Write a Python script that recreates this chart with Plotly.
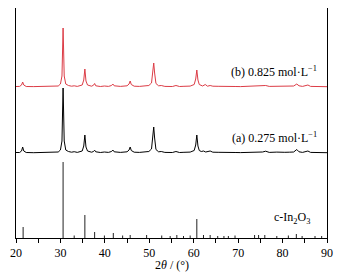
import plotly.graph_objects as go

# 2theta points (deg) and intensity above each pattern's own baseline (a.u.)
two_theta_a = [20.0, 20.8, 21.25, 21.5, 21.75, 22.3, 24.0, 26.0, 28.0, 29.5, 30.0, 30.35, 30.5, 30.6,
               30.72, 30.85, 31.2, 31.8, 32.5, 33.1, 33.8, 34.9, 35.25, 35.5, 35.75, 36.1, 37.0, 37.45,
               37.7, 37.95, 39.0, 39.9, 40.8, 41.5, 41.8, 42.1, 43.5, 44.0, 45.0, 45.45, 45.7, 45.95,
               46.6, 47.8, 48.7, 49.5, 49.9, 50.5, 50.85, 51.0, 51.2, 51.5, 52.1, 52.7, 53.5, 54.4,
               55.2, 56.0, 56.8, 57.8, 59.2, 60.1, 60.45, 60.7, 60.95, 61.25, 61.7, 62.2, 62.7, 63.7,
               64.3, 65.5, 66.5, 67.5, 68.5, 69.5, 70.5, 72.0, 73.5, 74.8, 75.5, 76.2, 77.0, 78.7,
               79.5, 80.5, 81.5, 82.5, 83.2, 83.7, 84.5, 85.7, 86.3, 87.5, 88.8, 90.0]
intensity_a = [0.5, 0.5, 2.0, 6.0, 2.0, 0.5, 0.3, 0.5, 0.5, 1.0, 3.0, 12.0, 45.0, 65.0,
               40.0, 12.0, 3.0, 1.5, 0.8, 1.3, 0.6, 2.0, 7.0, 18.0, 6.0, 2.0, 0.8, 1.5,
               2.8, 1.2, 0.5, 1.0, 0.6, 1.5, 3.0, 1.2, 0.6, 0.9, 1.2, 3.0, 6.0, 2.5,
               0.8, 0.6, 1.0, 2.0, 1.5, 4.0, 17.0, 26.0, 15.0, 3.5, 1.2, 1.5, 0.6, 0.8,
               0.5, 1.5, 0.5, 0.7, 0.9, 2.5, 8.0, 18.0, 7.0, 2.5, 1.5, 2.0, 1.0, 2.0,
               0.8, 0.7, 0.8, 0.4, 0.8, 0.5, 0.4, 0.5, 0.8, 1.2, 1.0, 1.8, 0.6, 0.9,
               0.5, 0.7, 0.8, 1.0, 3.5, 1.2, 0.6, 2.0, 0.6, 0.3, 0.6, 0.3]

two_theta_b = [20.0, 20.8, 21.25, 21.5, 21.75, 22.3, 24.0, 26.0, 28.0, 29.5, 30.0, 30.35, 30.5, 30.6,
               30.72, 30.85, 31.2, 31.8, 32.5, 33.1, 33.8, 34.9, 35.25, 35.5, 35.75, 36.1, 37.0, 37.45,
               37.7, 37.95, 39.0, 39.9, 40.8, 41.5, 41.8, 42.1, 43.5, 44.0, 45.0, 45.45, 45.7, 45.95,
               46.6, 47.8, 48.7, 49.5, 49.9, 50.5, 50.85, 51.0, 51.2, 51.5, 52.1, 52.7, 53.5, 54.4,
               55.2, 56.0, 56.8, 57.8, 59.2, 60.1, 60.45, 60.7, 60.95, 61.25, 61.6, 62.0, 62.6, 63.1,
               63.7, 64.3, 65.5, 66.5, 67.5, 68.5, 69.5, 70.5, 72.0, 73.5, 74.8, 75.5, 76.2, 77.0,
               78.7, 79.5, 80.5, 81.5, 82.5, 83.2, 83.7, 84.5, 85.7, 86.3, 87.5, 88.8, 90.0]
intensity_b = [0.5, 0.6, 2.0, 5.0, 2.0, 0.5, 0.4, 0.5, 0.6, 1.0, 3.0, 11.0, 40.0, 59.0,
               36.0, 11.0, 3.0, 1.5, 0.8, 1.2, 0.6, 2.0, 7.0, 18.0, 6.0, 2.0, 0.8, 1.8,
               3.5, 1.2, 0.5, 1.0, 0.6, 1.5, 3.0, 1.2, 0.6, 0.9, 1.2, 3.0, 6.0, 2.5,
               0.8, 0.6, 1.0, 2.0, 1.5, 4.0, 16.0, 24.0, 14.0, 3.5, 1.2, 1.5, 0.6, 0.8,
               0.5, 1.5, 0.5, 0.7, 0.9, 2.5, 8.0, 17.0, 7.0, 2.5, 2.0, 1.0, 2.5, 0.8,
               1.5, 0.8, 0.7, 0.8, 0.4, 0.8, 0.5, 0.4, 0.5, 0.8, 1.2, 1.0, 1.5, 0.6,
               0.9, 0.5, 0.7, 0.8, 1.0, 3.0, 1.2, 0.6, 2.0, 0.6, 0.3, 0.6, 0.3]

# c-In2O3 reference lines
ref_theta = [21.6, 30.6, 33.1, 35.5, 37.7, 39.9, 41.9, 44.0, 45.7, 49.4, 52.8, 54.7, 56.2, 57.7,
             59.2, 60.7, 62.2, 63.7, 65.4, 66.8, 67.8, 69.3, 73.7, 74.6, 76.0, 78.7, 81.3, 83.1,
             84.4, 87.3, 88.8]
ref_intensity = [11, 76, 2.5, 23, 6, 2.5, 5, 2.5, 3, 3, 2.5, 2, 3, 2,
                 2.5, 19, 3, 3, 2, 2, 2, 2.5, 3, 3, 3, 2, 2.5, 4,
                 2, 2, 2]

offset_a = 85
offset_b = 151

fig = go.Figure()

stick_x, stick_y = [], []
for t, h in zip(ref_theta, ref_intensity):
    stick_x += [t, t, None]
    stick_y += [0, h, None]
fig.add_trace(go.Scatter(x=stick_x, y=stick_y, mode="lines",
                         line=dict(color="#222222", width=1), hoverinfo="skip"))

fig.add_trace(go.Scatter(x=two_theta_a, y=[v + offset_a for v in intensity_a], mode="lines",
                         line=dict(color="black", width=1)))
fig.add_trace(go.Scatter(x=two_theta_b, y=[v + offset_b for v in intensity_b], mode="lines",
                         line=dict(color="#dc3c46", width=1)))

serif = "Liberation Serif"
ann = dict(xref="x", yref="y", showarrow=False, xanchor="right",
           font=dict(family=serif, size=12, color="black"))
fig.add_annotation(x=88.2, y=167, text="(b) 0.825 mol·L<sup>−1</sup>", **ann)
fig.add_annotation(x=88.2, y=101, text="(a) 0.275 mol·L<sup>−1</sup>", **ann)
fig.add_annotation(x=86.6, y=20, text="c-In<sub>2</sub>O<sub>3</sub>", **ann)
fig.add_annotation(x=0.5, y=-0.117, xref="paper", yref="paper", showarrow=False,
                   xanchor="center", yanchor="middle",
                   text="2<i>θ</i> / (°)", font=dict(family=serif, size=12, color="black"))

# the page body adds an 8px margin, so the figure is 8px smaller than the window
fig.update_layout(
    width=351, height=269,
    margin=dict(l=8, r=32, t=0, b=39, autoexpand=False),
    paper_bgcolor="white", plot_bgcolor="white",
    showlegend=False,
    font=dict(family=serif, size=12, color="black"),
)
fig.update_xaxes(
    range=[20, 90], dtick=10, tick0=20,
    ticks="outside", ticklen=4, tickwidth=1, tickcolor="black",
    minor=dict(dtick=5, ticks="outside", ticklen=4, tickcolor="black"),
    showline=True, linecolor="black", linewidth=1, mirror=True,
    showgrid=False, zeroline=False, automargin=False,
    tickfont=dict(family=serif, size=12),
)
fig.update_yaxes(
    range=[0, 230], showticklabels=False, ticks="",
    showline=True, linecolor="black", linewidth=1, mirror=True,
    showgrid=False, zeroline=False, automargin=False,
)

fig.write_html("out.html")
